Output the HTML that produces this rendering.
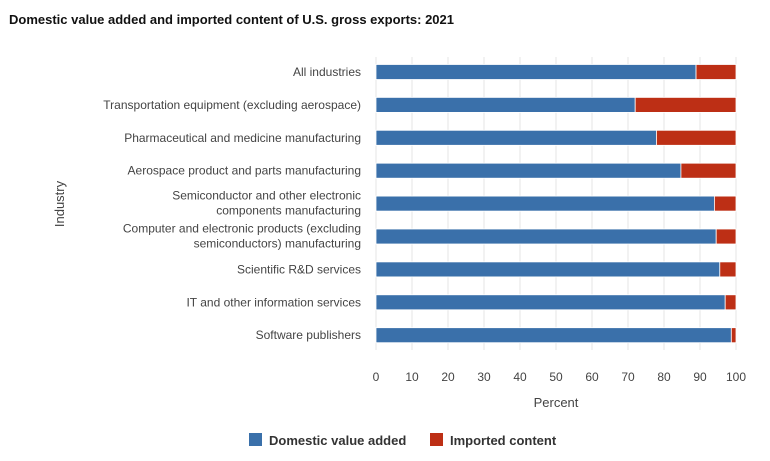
<!DOCTYPE html>
<html><head><meta charset="utf-8">
<style>
body{margin:0;background:#fff;width:770px;height:461px;overflow:hidden;font-family:"Liberation Sans",sans-serif}
svg{display:block}
</style></head>
<body>
<svg width="770" height="461">
<text x="9" y="24" font-size="13" font-weight="bold" fill="#111">Domestic value added and imported content of U.S. gross exports: 2021</text>
<g id="grid"></g>
<g id="bars"></g>
<g id="ylabels"></g>
<g id="xticks"></g>
<text x="556" y="407" font-size="13" fill="#444" text-anchor="middle">Percent</text>
<text x="0" y="0" font-size="13" fill="#444" text-anchor="middle" transform="translate(64,204) rotate(-90)">Industry</text>
<g><rect x="249" y="433" width="13" height="13" fill="#3a70aa"/><text x="269" y="445" font-size="13" font-weight="bold" fill="#333">Domestic value added</text></g>
<g><rect x="430" y="433" width="13" height="13" fill="#bd2f15"/><text x="450" y="445" font-size="13" font-weight="bold" fill="#333">Imported content</text></g>
</svg>
<script>
const categories=[["All industries"],["Transportation equipment (excluding aerospace)"],["Pharmaceutical and medicine manufacturing"],["Aerospace product and parts manufacturing"],["Semiconductor and other electronic","components manufacturing"],["Computer and electronic products (excluding","semiconductors) manufacturing"],["Scientific R&D services"],["IT and other information services"],["Software publishers"]];
const domestic=[88.9,72,77.9,84.7,94,94.5,95.5,97,98.7];
const imported=[11.1,28,22.1,15.3,6,5.5,4.5,3,1.3];
const ticks=[0,10,20,30,40,50,60,70,80,90,100];
const NS="http://www.w3.org/2000/svg";
const x=v=>376+v*3.6;
const yc=i=>72+i*32.9;
function mk(t,a,p){const e=document.createElementNS(NS,t);for(const k in a)e.setAttribute(k,a[k]);p.appendChild(e);return e;}
const grid=document.getElementById('grid'),bars=document.getElementById('bars'),yl=document.getElementById('ylabels'),xt=document.getElementById('xticks');
ticks.forEach(t=>{
  const l=mk('line',{x1:x(t),x2:x(t),y1:57,y2:350,stroke:'#e6e6e6','stroke-width':1},grid);
  
  
  const tx=mk('text',{x:x(t),y:381,'font-size':12,fill:'#444','text-anchor':'middle'},xt);
  tx.textContent=t;
  
  
});
categories.forEach((c,i)=>{
  const y=yc(i);
  const b1=mk('rect',{x:x(0),y:y-7.5,width:x(domestic[i])-x(0),height:15,fill:'#3a70aa',stroke:'#fff','stroke-width':0.8},bars);
  
  
  const b2=mk('rect',{x:x(domestic[i]),y:y-7.5,width:x(domestic[i]+imported[i])-x(domestic[i]),height:15,fill:'#bd2f15',stroke:'#fff','stroke-width':0.8},bars);
  
  
  const t=mk('text',{x:361,y:c.length==1?y+4:y-4,'font-size':12,fill:'#444','text-anchor':'end'},yl);
  
  
  c.forEach((s,j)=>{const ts=mk('tspan',{x:361,dy:j?15:0},t);ts.textContent=s;});
});
</script>
</body></html>
